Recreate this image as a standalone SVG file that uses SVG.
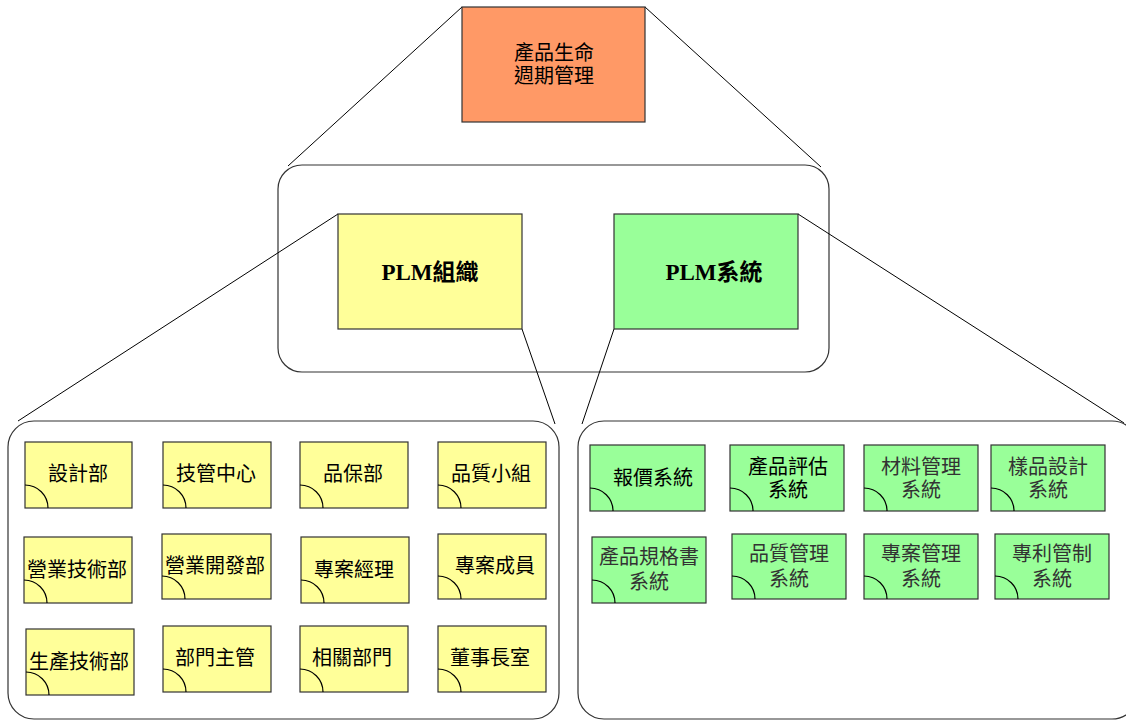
<svg xmlns="http://www.w3.org/2000/svg" width="1126" height="720" viewBox="0 0 1126 720">
<style>
.bg{fill:#fff}
.box{stroke:#333;stroke-width:1.2}
.cont{fill:#fff;stroke:#333;stroke-width:1.2}
.or{fill:#FF9966}
.ye{fill:#FFFF99}
.gr{fill:#99FF99}
.arc{fill:none;stroke:#000;stroke-width:1.2}
.conn line{stroke:#000;stroke-width:1}
text{font-family:"Liberation Serif","Noto Sans CJK TC",serif;text-anchor:middle;dominant-baseline:central}
.t{font-size:20px;fill:#000}
.tg{font-size:20px;fill:#333}
.big{font-size:23px;font-weight:bold;fill:#000}
</style>
<rect class="bg" x="0" y="0" width="1126" height="720"/>
<g id="containers">
<rect id="mid-container" class="cont" x="278" y="165" width="551" height="207" rx="24"/>
<rect id="org-container" class="cont" x="8" y="421" width="551" height="298" rx="26"/>
<rect id="sys-container" class="cont" x="578" y="421" width="560" height="298" rx="26"/>
</g>
<g class="conn" id="connectors">
<line x1="462" y1="7" x2="288" y2="166"/>
<line x1="645" y1="7" x2="821" y2="167"/>
<line x1="338" y1="214" x2="18" y2="421"/>
<line x1="522" y1="329" x2="555" y2="424"/>
<line x1="614" y1="329" x2="582" y2="424"/>
<line x1="798" y1="214" x2="1124" y2="423"/>
</g>
<g id="plm">
<rect class="box or" x="462" y="7" width="183" height="115"/>
<text class="t" x="554" y="53">產品生命</text>
<text class="t" x="554" y="76">週期管理</text>
</g>
<g id="plm-org">
<rect class="box ye" x="338" y="214" width="184" height="115"/>
<text class="big" x="430" y="272">PLM組織</text>
</g>
<g id="plm-sys">
<rect class="box gr" x="614" y="214" width="184" height="115"/>
<text class="big" x="714" y="272">PLM系統</text>
</g>
<g id="org-1"><rect class="box ye" x="25" y="442" width="107" height="66"/><path class="arc" d="M25,485 A23,23 0 0 1 48,508"/><text class="t" x="78" y="474">設計部</text></g>
<g id="org-2"><rect class="box ye" x="163" y="442" width="108" height="66"/><path class="arc" d="M163,485 A23,23 0 0 1 186,508"/><text class="t" x="216" y="474">技管中心</text></g>
<g id="org-3"><rect class="box ye" x="300" y="442" width="108" height="66"/><path class="arc" d="M300,485 A23,23 0 0 1 323,508"/><text class="t" x="353" y="474">品保部</text></g>
<g id="org-4"><rect class="box ye" x="438" y="442" width="108" height="66"/><path class="arc" d="M438,485 A23,23 0 0 1 461,508"/><text class="t" x="491" y="474">品質小組</text></g>
<g id="org-5"><rect class="box ye" x="24" y="537" width="108" height="66"/><path class="arc" d="M24,580 A23,23 0 0 1 47,603"/><text class="t" x="77" y="570">營業技術部</text></g>
<g id="org-6"><rect class="box ye" x="162" y="534" width="109" height="65"/><path class="arc" d="M162,576 A23,23 0 0 1 185,599"/><text class="t" x="215" y="566">營業開發部</text></g>
<g id="org-7"><rect class="box ye" x="301" y="537" width="108" height="66"/><path class="arc" d="M301,580 A23,23 0 0 1 324,603"/><text class="t" x="354" y="570">專案經理</text></g>
<g id="org-8"><rect class="box ye" x="438" y="534" width="108" height="65"/><path class="arc" d="M438,576 A23,23 0 0 1 461,599"/><text class="t" x="495" y="566">專案成員</text></g>
<g id="org-9"><rect class="box ye" x="26" y="629" width="108" height="66"/><path class="arc" d="M26,672 A23,23 0 0 1 49,695"/><text class="t" x="79" y="662">生產技術部</text></g>
<g id="org-10"><rect class="box ye" x="163" y="626" width="108" height="66"/><path class="arc" d="M163,669 A23,23 0 0 1 186,692"/><text class="t" x="215" y="658">部門主管</text></g>
<g id="org-11"><rect class="box ye" x="300" y="626" width="108" height="66"/><path class="arc" d="M300,669 A23,23 0 0 1 323,692"/><text class="t" x="352" y="658">相關部門</text></g>
<g id="org-12"><rect class="box ye" x="438" y="626" width="108" height="66"/><path class="arc" d="M438,669 A23,23 0 0 1 461,692"/><text class="t" x="490" y="658">董事長室</text></g>
<g id="sys-1"><rect class="box gr" x="590" y="445" width="115" height="66"/><path class="arc" d="M590,488 A23,23 0 0 1 613,511"/><text class="t" x="653" y="478">報價系統</text></g>
<g id="sys-2"><rect class="box gr" x="730" y="445" width="114" height="66"/><path class="arc" d="M730,488 A23,23 0 0 1 753,511"/><text class="t" x="788" y="467">產品評估</text><text class="t" x="788" y="490">系統</text></g>
<g id="sys-3"><rect class="box gr" x="864" y="445" width="114" height="66"/><path class="arc" d="M864,488 A23,23 0 0 1 887,511"/><text class="tg" x="921" y="467">材料管理</text><text class="tg" x="921" y="490">系統</text></g>
<g id="sys-4"><rect class="box gr" x="991" y="445" width="114" height="66"/><path class="arc" d="M991,488 A23,23 0 0 1 1014,511"/><text class="tg" x="1048" y="467">樣品設計</text><text class="tg" x="1048" y="490">系統</text></g>
<g id="sys-5"><rect class="box gr" x="592" y="537" width="114" height="66"/><path class="arc" d="M592,580 A23,23 0 0 1 615,603"/><text class="tg" x="649" y="557">產品規格書</text><text class="tg" x="649" y="582">系統</text></g>
<g id="sys-6"><rect class="box gr" x="732" y="534" width="114" height="65"/><path class="arc" d="M732,576 A23,23 0 0 1 755,599"/><text class="tg" x="789" y="554">品質管理</text><text class="tg" x="789" y="579">系統</text></g>
<g id="sys-7"><rect class="box gr" x="864" y="534" width="114" height="65"/><path class="arc" d="M864,576 A23,23 0 0 1 887,599"/><text class="tg" x="921" y="554">專案管理</text><text class="tg" x="921" y="579">系統</text></g>
<g id="sys-8"><rect class="box gr" x="995" y="534" width="114" height="65"/><path class="arc" d="M995,576 A23,23 0 0 1 1018,599"/><text class="tg" x="1052" y="554">專利管制</text><text class="tg" x="1052" y="579">系統</text></g>
</svg>
